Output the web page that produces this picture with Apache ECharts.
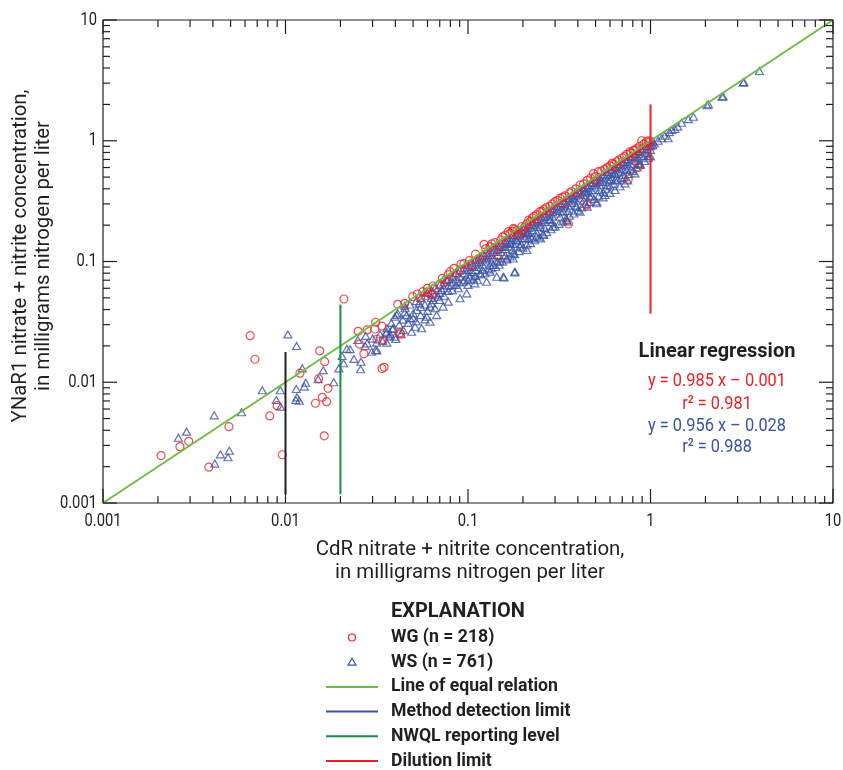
<!DOCTYPE html>
<html><head><meta charset="utf-8">
<script src="https://cdn.jsdelivr.net/npm/echarts@6/dist/echarts.min.js"></script>
<style>html,body{margin:0;padding:0;background:#fff}#c{width:843px;height:770px}</style>
</head><body><div id="c"></div>
<script>
// ---- data ----
const wgPoints = [
[0.00208,0.00247],[0.00264,0.00293],[0.00295,0.00324],[0.0038,0.00198],[0.0049,0.00429],[0.0064,0.0243],[0.0068,0.0155],[0.0082,0.00526],[0.009,0.0064],[0.0096,0.00251],
[0.012,0.0119],[0.0154,0.0182],[0.0164,0.0148],[0.0152,0.0107],[0.0171,0.0089],[0.0159,0.0075],[0.0146,0.0067],[0.0168,0.0069],[0.0163,0.0036],[0.0209,0.0489],
[0.025,0.0264],[0.0254,0.0207],[0.0269,0.0172],[0.028,0.0271],[0.0312,0.0314],[0.0309,0.0276],[0.0337,0.0292],[0.0317,0.0227],[0.0344,0.0224],[0.0338,0.0130],
[0.0347,0.0133],[0.0412,0.0442],[0.0424,0.0256],[0.0428,0.0251],[0.0498,0.0511],[0.0528,0.0538],[0.0565,0.0562],[0.0598,0.060],[0.0637,0.0535],[0.0645,0.0627],
[0.0723,0.0726],[0.0797,0.0824],[0.0838,0.0878],[0.0915,0.0953],[0.0867,0.0788],[0.1017,0.1016],[0.1047,0.0923],[0.1153,0.1062],[0.1224,0.1388],[0.121,0.1096],
[0.132,0.1327],[0.1406,0.1432],[0.1448,0.111],[0.151,0.1507],[0.1698,0.171],[0.1849,0.18],[0.197,0.194],[0.21,0.2045],[0.166,0.1766],[0.177,0.188],
[0.189,0.166],[0.205,0.194],[0.219,0.214],[0.237,0.244],[0.248,0.259],[0.269,0.279],[0.281,0.288],[0.3,0.313],[0.319,0.334],[0.355,0.2045],
[0.411,0.43],[0.447,0.294],[0.487,0.535],[0.498,0.505],[0.518,0.554],[0.616,0.65],[0.653,0.671],[0.755,0.48],[0.772,0.812],[0.806,0.83],
[0.857,0.603],[0.895,1.0],[0.95,0.98],[0.11,0.115],[0.125,0.128],[0.135,0.14],[0.155,0.16],[0.16,0.165],[0.175,0.178],[0.18,0.185],
[0.215,0.22],[0.225,0.23],[0.23,0.236],[0.255,0.26],[0.26,0.27],[0.29,0.3],[0.31,0.32],[0.33,0.34],[0.34,0.35],[0.36,0.37],
[0.37,0.38],[0.39,0.40],[0.43,0.44],[0.45,0.47],[0.47,0.49],[0.54,0.56],[0.56,0.58],[0.58,0.60],[0.6,0.62],[0.63,0.64],
[0.67,0.69],[0.7,0.72],[0.72,0.74],[0.74,0.77],[0.78,0.79],[0.82,0.84],[0.84,0.86],[0.87,0.9],[0.92,0.94],[0.97,1.0],
[1.0,0.99],[0.2,0.18],[0.28,0.26],[0.4,0.37],[0.5,0.46],[0.65,0.6],[0.8,0.74],[0.9,0.85],[0.33,0.3],[0.24,0.22],
[0.15,0.135],[0.07,0.065],[0.09,0.085],[0.06,0.056],[0.045,0.045],[0.055,0.05],[0.075,0.07],[0.078,0.078],[0.095,0.096],[0.0632,0.0528]
];
const wsPoints = [
[0.00259,0.00347],[0.00287,0.0039],[0.00407,0.00532],[0.0041,0.00212],[0.0044,0.00253],[0.00492,0.00271],[0.00484,0.00239],[0.00575,0.00564],[0.00746,0.00858],[0.0089,0.00713],
[0.00937,0.00858],[0.0094,0.00628],[0.0103,0.0249],[0.0115,0.01995],[0.01236,0.01304],[0.0129,0.0099],[0.01268,0.0092],[0.01146,0.0088],[0.01156,0.0075],[0.0119,0.00703],
[0.0114,0.00713],[0.0151,0.01058],[0.0161,0.0126],[0.0184,0.01],[0.0196,0.01304],[0.0204,0.0165],[0.0208,0.01435],[0.0217,0.0189],[0.0226,0.0188],[0.0237,0.0156],
[0.0259,0.0148],[0.0258,0.0128],[0.0249,0.0224],[0.0273,0.01995],[0.0275,0.0242],[0.0297,0.0179],[0.0311,0.0185],[0.0317,0.0183],[0.0316,0.0213],[0.0359,0.0213],
[0.0356,0.0254],[0.0374,0.0249],[0.0385,0.0276],[0.0402,0.0228],[0.0397,0.0349],[0.0412,0.0372],
[0.028,0.021],[0.03,0.023],[0.033,0.025],[0.036,0.028],[0.038,0.031],[0.042,0.03],[0.044,0.033],[0.047,0.031],[0.05,0.034],[0.034,0.022],
[0.037,0.024],[0.043,0.025],
[0.039,0.028],[0.0407,0.036],[0.0452,0.041],[0.0461,0.036],[0.0501,0.0372],[0.0523,0.0397],[0.0541,0.0451],[0.0581,0.0332],[0.0513,0.0288],[0.0557,0.028],
[0.0594,0.0349],[0.0619,0.0423],[0.0645,0.048],[0.0688,0.0511],[0.0718,0.058],[0.0673,0.036],[0.0731,0.0423],[0.078,0.0465],[0.0764,0.0703],[0.0814,0.0639],
[0.0885,0.06],[0.0904,0.0496],[0.0942,0.068],[0.0984,0.0545],[0.1026,0.0748],[0.109,0.0659],[0.1164,0.0798],[0.1265,0.068],[0.132,0.0824],[0.1376,0.0935],
[0.1437,0.0748],[0.1497,0.0996],[0.1574,0.0738],[0.181,0.0824],[0.163,0.1062],[0.177,0.117],[0.193,0.1327],[0.21,0.1245],[0.205,0.1556],[0.214,0.1766],
[0.185,0.1507],[0.17,0.1419],[0.1596,0.1327],[0.0359,0.0262],[0.0442,0.0271],[0.0491,0.0262],[0.0398,0.0238],[0.0619,0.0318],
[0.973,0.716],[0.876,0.65],[0.822,0.537],[0.725,0.444],[0.639,0.391],[0.563,0.355],[0.507,0.313],[0.411,0.259],[0.347,0.221],[0.293,0.194],
[0.259,0.166],[0.223,0.1556],[0.639,0.537],[0.741,0.572],[0.529,0.458],[0.438,0.378],[0.378,0.334],[0.601,0.469],[0.466,0.344],[0.394,0.284],
[0.333,0.259],[0.281,0.221],[0.248,0.194],[0.21,0.171],[0.156,0.0748],[0.18,0.081],[0.507,0.304],[0.237,0.161],[0.177,0.106],[1.0,0.74],
[0.045,0.038],[0.045,0.043],[0.048,0.034],[0.048,0.044],[0.052,0.047],[0.052,0.032],[0.055,0.05],[0.055,0.042],[0.055,0.036],[0.058,0.052],
[0.058,0.044],[0.06,0.055],[0.06,0.039],[0.063,0.058],[0.063,0.05],[0.063,0.045],[0.066,0.06],[0.066,0.053],[0.066,0.041],[0.07,0.064],
[0.07,0.055],[0.07,0.048],[0.074,0.067],[0.074,0.06],[0.074,0.052],[0.078,0.072],[0.078,0.063],[0.078,0.057],[0.082,0.075],[0.082,0.068],
[0.082,0.058],[0.086,0.08],[0.086,0.072],[0.086,0.064],[0.09,0.084],[0.09,0.075],[0.09,0.067],[0.095,0.088],[0.095,0.08],[0.095,0.07],
[0.1,0.093],[0.1,0.085],[0.1,0.078],[0.1,0.07],[0.105,0.098],[0.105,0.09],[0.105,0.082],[0.11,0.103],[0.11,0.094],[0.11,0.085],
[0.11,0.076],[0.115,0.108],[0.115,0.099],[0.115,0.09],[0.12,0.112],[0.12,0.104],[0.12,0.094],[0.12,0.085],[0.126,0.118],[0.126,0.108],
[0.126,0.1],[0.132,0.124],[0.132,0.113],[0.132,0.104],[0.132,0.094],[0.138,0.13],[0.138,0.12],[0.138,0.108],[0.145,0.136],[0.145,0.125],
[0.145,0.113],[0.145,0.1],[0.152,0.143],[0.152,0.132],[0.152,0.12],[0.16,0.15],[0.16,0.14],[0.16,0.127],[0.16,0.112],[0.168,0.158],
[0.168,0.146],[0.168,0.133],[0.176,0.166],[0.176,0.153],[0.176,0.14],[0.176,0.125],[0.185,0.174],[0.185,0.162],[0.185,0.147],[0.195,0.184],
[0.195,0.17],[0.195,0.156],[0.195,0.14],[0.205,0.194],[0.205,0.18],[0.205,0.164],[0.215,0.203],[0.215,0.19],[0.215,0.172],[0.215,0.155],
[0.226,0.214],[0.226,0.2],[0.226,0.182],[0.238,0.225],[0.238,0.21],[0.238,0.192],[0.238,0.174],[0.25,0.237],[0.25,0.22],[0.25,0.202],
[0.263,0.25],[0.263,0.233],[0.263,0.213],[0.263,0.19],[0.277,0.263],[0.277,0.245],[0.277,0.225],[0.29,0.276],[0.29,0.257],[0.29,0.236],
[0.29,0.212],[0.305,0.29],[0.305,0.27],[0.305,0.25],[0.32,0.305],[0.32,0.285],[0.32,0.262],[0.32,0.235],[0.337,0.32],[0.337,0.3],
[0.337,0.276],[0.354,0.337],[0.354,0.315],[0.354,0.29],[0.354,0.262],[0.372,0.354],[0.372,0.332],[0.372,0.305],[0.39,0.372],[0.39,0.35],
[0.39,0.32],[0.39,0.29],[0.41,0.39],[0.41,0.367],[0.41,0.337],[0.43,0.41],[0.43,0.385],[0.43,0.355],[0.43,0.32],[0.452,0.43],
[0.452,0.405],[0.452,0.372],[0.475,0.452],[0.475,0.425],[0.475,0.39],[0.475,0.35],[0.5,0.476],[0.5,0.448],[0.5,0.41],[0.525,0.5],
[0.525,0.47],[0.525,0.432],[0.525,0.39],[0.55,0.525],[0.55,0.494],[0.55,0.455],[0.58,0.552],[0.58,0.52],[0.58,0.478],[0.58,0.43],
[0.61,0.58],[0.61,0.548],[0.61,0.503],[0.64,0.61],[0.64,0.575],[0.64,0.53],[0.64,0.475],[0.67,0.64],[0.67,0.603],[0.67,0.555],
[0.705,0.672],[0.705,0.635],[0.705,0.585],[0.705,0.52],[0.74,0.705],[0.74,0.665],[0.74,0.615],[0.78,0.742],[0.78,0.7],[0.78,0.645],
[0.78,0.58],[0.82,0.78],[0.82,0.735],[0.82,0.68],[0.86,0.82],[0.86,0.775],[0.86,0.715],[0.86,0.64],[0.9,0.86],[0.9,0.81],
[0.9,0.75],[0.95,0.905],[0.95,0.855],[0.95,0.79],[1.0,0.95],[1.0,0.9],[1.0,0.84],[1.03,0.98],[1.03,0.92],
[0.1,0.064],[0.107,0.072],[0.113,0.07],[0.118,0.078],[0.124,0.08],[0.13,0.086],[0.135,0.088],[0.142,0.09],[0.148,0.094],[0.155,0.1],
[0.163,0.104],[0.17,0.11],[0.18,0.115],[0.19,0.122],[0.2,0.13],[0.21,0.138],[0.22,0.142],[0.232,0.15],[0.245,0.158],[0.258,0.168],
[0.27,0.175],[0.285,0.185],[0.3,0.195],[0.315,0.205],[0.33,0.215],[0.345,0.228],[0.36,0.24],[0.38,0.25],[0.4,0.265],[0.42,0.28],
[0.44,0.3],[0.46,0.31],[0.49,0.33],[0.52,0.35],[0.55,0.375],[0.57,0.4],[0.6,0.42],[0.63,0.44],[0.66,0.47],[0.69,0.49],
[0.72,0.5],[0.76,0.53],[0.8,0.56],[0.84,0.6],[0.88,0.63],[0.93,0.68],[0.98,0.75],[0.55,0.34],[0.6,0.37],[0.68,0.42],
[0.75,0.47],[0.45,0.285],[0.35,0.215],[0.25,0.155],
[1.05,0.95],[1.1,1.0],[1.15,1.05],[1.2,1.1],[1.25,1.05],[1.27,1.18],[1.31,1.23],[1.36,1.25],[1.41,1.31],[1.48,1.41],
[1.61,1.51],[1.72,1.58],[2.04,1.97],[2.08,2.0],[2.47,2.32],[2.5,2.33],[3.22,3.03],[3.25,3.06],[3.95,3.78]
];
const equalLine = [[0.001,0.001],[10,10]];
const mdlLine = [[0.01,0.00118],[0.01,0.0178]];
const nwqlLine = [[0.02,0.00118],[0.02,0.044]];
const dilutionLine = [[1,0.037],[1,2]];
const decades = [0.001,0.01,0.1,1,10];
const tickLabels = ['0.001','0.01','0.1','1','10'];
const legendNames = ['WG (n = 218)','WS (n = 761)','Line of equal relation','Method detection limit','NWQL reporting level','Dilution limit'];
const regressionTitle = 'Linear regression';
const regressionLines = ['y = 0.985 x \u2013 0.001','r\u00b2 = 0.981','y = 0.956 x \u2013 0.028','r\u00b2 = 0.988'];
const xTitle = 'CdR nitrate + nitrite concentration,\nin milligrams nitrogen per liter';
const yTitle = 'YNaR1 nitrate + nitrite concentration,\nin milligrams nitrogen per liter';

// ---- style ----
const FONT = "Roboto,'Liberation Sans',sans-serif";
const RED = '#ec2027', BLUE = '#3a53a4', LGREEN = '#6dbd45', DGREEN = '#1b8a45', BLACK = '#231f20';
const AXMIN = decades[0], AXMAX = decades[decades.length-1];

// tick marks (major + minor) and tick labels, placed through the axes' scales
const tickData = [];
decades.forEach((d, i) => {
  tickData.push([d, 1, 0, 1, i]); tickData.push([1, d, 1, 1, i]);
  if (i < decades.length - 1) for (let k = 2; k <= 9; k++) {
    tickData.push([d*k, 1, 0, 0, -1]); tickData.push([1, d*k, 1, 0, -1]);
  }
});

const chart = echarts.init(document.getElementById('c'), null, {renderer:'canvas'});

function renderTicks(params, api) {
  const kind = api.value(2), major = api.value(3), li = api.value(4);
  const len = major ? 14 : 7;
  const st = {stroke: BLACK, lineWidth: 1.2};
  const children = [];
  if (kind === 0) {
    const v = api.value(0);
    const b = api.coord([v, AXMIN]), t = api.coord([v, AXMAX]);
    children.push({type:'line', shape:{x1:b[0],y1:b[1],x2:b[0],y2:b[1]-len}, style:st});
    children.push({type:'line', shape:{x1:t[0],y1:t[1],x2:t[0],y2:t[1]+len}, style:st});
    if (major) children.push({type:'text', x:b[0], y:b[1]+18, scaleX:0.82,
      style:{text:tickLabels[li], font:'18px ' + FONT, fill:BLACK, align:'center', verticalAlign:'middle'}});
  } else {
    const v = api.value(1);
    const l = api.coord([AXMIN, v]), r = api.coord([AXMAX, v]);
    children.push({type:'line', shape:{x1:l[0],y1:l[1],x2:l[0]+len,y2:l[1]}, style:st});
    children.push({type:'line', shape:{x1:r[0],y1:r[1],x2:r[0]-len,y2:r[1]}, style:st});
    if (major) children.push({type:'text', x:l[0]-6, y:l[1], scaleX:0.82,
      style:{text:tickLabels[li], font:'18px ' + FONT, fill:BLACK, align:'right', verticalAlign:'middle'}});
  }
  return {type:'group', children: children};
}

const legendTop = 637.5, legendStep = 24.7;
const legendGraphics = [
  {type:'text', x: 391, y: 611.5, scaleX: 1.0, style:{text:'EXPLANATION', font:"bold 20px " + FONT, fill: BLACK, verticalAlign:'middle'}},
];
legendNames.forEach((n, i) => {
  const y = legendTop + i*legendStep;
  legendGraphics.push({type:'text', x: 391, y: y, scaleX: 0.98, style:{text:n, font:"bold 18px " + FONT, fill: BLACK, verticalAlign:'middle'}});
});
legendGraphics.push({type:'circle', shape:{cx:352, cy:legendTop, r:3.5}, style:{fill:'none', stroke:RED, lineWidth:1.2}});
legendGraphics.push({type:'polygon', shape:{points:[[352,legendTop+legendStep-4],[348,legendTop+legendStep+3],[356,legendTop+legendStep+3]]}, style:{fill:'none', stroke:BLUE, lineWidth:1.2}});
[LGREEN, BLUE, DGREEN, RED].forEach((c, i) => {
  const y = legendTop + (i+2)*legendStep;
  legendGraphics.push({type:'line', shape:{x1:326, y1:y, x2:378, y2:y}, style:{stroke:c, lineWidth:2}});
});

const regY = [381.5, 404, 426.7, 447.3];
const regGraphics = [
  {type:'text', x: 717, y: 352, scaleX: 1.0, style:{text:regressionTitle, font:"bold 20px " + FONT, fill: BLACK, align:'center', verticalAlign:'middle'}}
];
regressionLines.forEach((t, i) => {
  regGraphics.push({type:'text', x: 717, y: regY[i], scaleX: 0.86, style:{text:t, font:"19px " + FONT, fill: i < 2 ? RED : BLUE, align:'center', verticalAlign:'middle'}});
});

const titleGraphics = [
  {type:'text', x: 470, y: 561, scaleX: 1.02, style:{text:xTitle, font:"20px " + FONT, lineHeight: 23, fill: BLACK, align:'center', verticalAlign:'middle'}},
  {type:'text', x: 32, y: 256, scaleX: 1.02, rotation: Math.PI/2, style:{text:yTitle, font:"20px " + FONT, lineHeight: 23, fill: BLACK, align:'center', verticalAlign:'middle'}}
];

const axisCommon = {
  type:'log', logBase:10, min:AXMIN, max:AXMAX,
  axisLine:{show:false}, axisTick:{show:false}, splitLine:{show:false}, minorTick:{show:false},
  axisLabel:{show:false}
};

chart.setOption({
  animation:false,
  backgroundColor:'#fff',
  grid:{left:103, right:10, top:20, bottom:267, show:true, borderColor:BLACK, borderWidth:1.2, containLabel:false},
  xAxis: Object.assign({}, axisCommon),
  yAxis: Object.assign({}, axisCommon),
  series:[
    {type:'custom', renderItem: renderTicks, data: tickData, encode:{x:0, y:1}, silent:true, clip:false, z:5},
    {type:'scatter', name:'WS', data: wsPoints, symbol:'triangle', symbolSize:[8,7],
      itemStyle:{color:'rgba(0,0,0,0)', borderColor:BLUE, borderWidth:1.2}, z:2},
    {type:'scatter', name:'WG', data: wgPoints, symbol:'circle', symbolSize:8,
      itemStyle:{color:'rgba(0,0,0,0)', borderColor:RED, borderWidth:1.2}, z:3},
    {type:'line', data: equalLine, showSymbol:false, lineStyle:{color:LGREEN, width:2}, z:4},
    {type:'line', data: mdlLine, showSymbol:false, lineStyle:{color:BLACK, width:2}, z:4},
    {type:'line', data: nwqlLine, showSymbol:false, lineStyle:{color:DGREEN, width:2}, z:4},
    {type:'line', data: dilutionLine, showSymbol:false, lineStyle:{color:RED, width:2}, z:4}
  ],
  graphic: [].concat(titleGraphics, regGraphics, legendGraphics)
});
</script></body></html>
